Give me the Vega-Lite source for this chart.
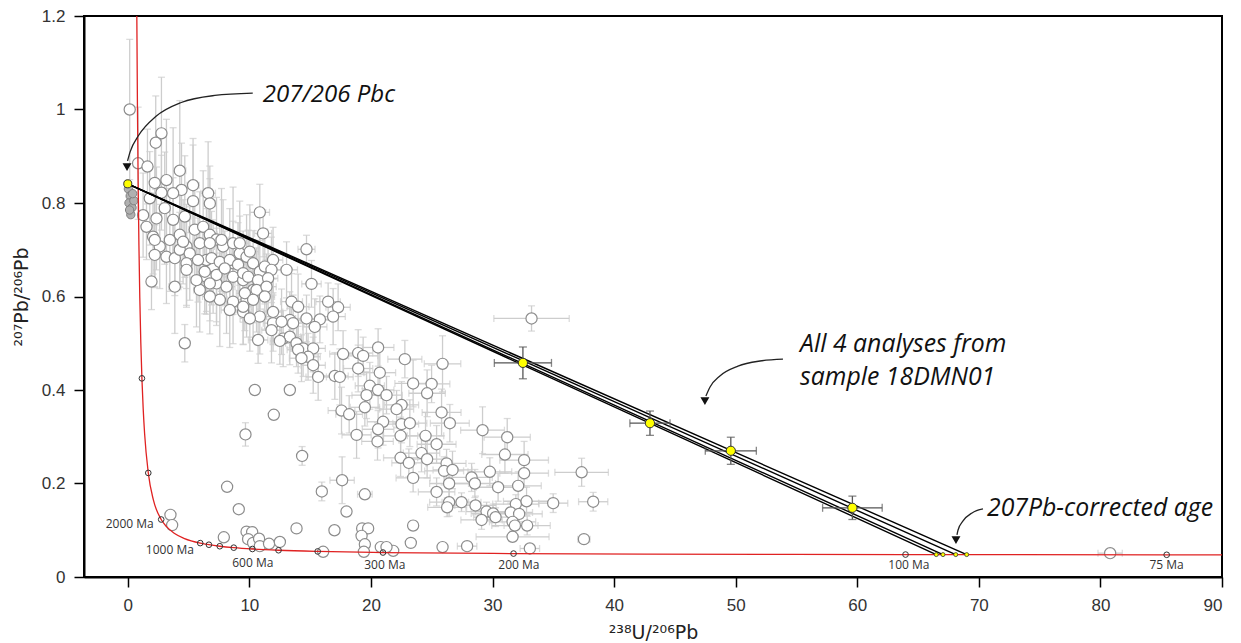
{
  "$schema": "https://vega.github.io/schema/vega-lite/v6.json",
  "width": 1138,
  "height": 561,
  "autosize": {"type": "none"},
  "padding": {"left": 84, "top": 16, "right": 19, "bottom": 66},
  "background": "white",
  "config": {
    "view": {"stroke": "black", "strokeWidth": 2},
    "axis": {
      "grid": false,
      "domainColor": "black",
      "domainWidth": 2,
      "tickColor": "black",
      "tickWidth": 1.5,
      "tickSize": 10,
      "labelFont": "Liberation Sans",
      "labelFontSize": 17,
      "labelColor": "#333333",
      "titleFont": "DejaVu Sans",
      "titleFontSize": 19,
      "titleFontWeight": "normal",
      "titleColor": "#222222"
    }
  },
  "datasets": {
    "grey": [
      {"x":0.16,"y":1.0,"xe":0.2,"ye":0.15},
      {"x":2.77,"y":0.949,"xe":0.4,"ye":0.12},
      {"x":2.3,"y":0.929,"xe":0.3,"ye":0.1},
      {"x":0.85,"y":0.885,"xe":0.2,"ye":0.12},
      {"x":1.62,"y":0.878,"xe":0.3,"ye":0.08},
      {"x":4.28,"y":0.869,"xe":0.5,"ye":0.15},
      {"x":3.18,"y":0.849,"xe":0.4,"ye":0.13},
      {"x":2.22,"y":0.843,"xe":0.3,"ye":0.09},
      {"x":5.37,"y":0.838,"xe":0.5,"ye":0.1},
      {"x":6.61,"y":0.821,"xe":0.6,"ye":0.11},
      {"x":6.75,"y":0.799,"xe":0.5,"ye":0.08},
      {"x":5.37,"y":0.804,"xe":0.4,"ye":0.12},
      {"x":4.42,"y":0.828,"xe":0.4,"ye":0.1},
      {"x":3.73,"y":0.821,"xe":0.4,"ye":0.14},
      {"x":2.77,"y":0.822,"xe":0.3,"ye":0.08},
      {"x":1.81,"y":0.81,"xe":0.3,"ye":0.1},
      {"x":10.86,"y":0.78,"xe":0.8,"ye":0.06},
      {"x":11.13,"y":0.735,"xe":0.7,"ye":0.05},
      {"x":14.7,"y":0.701,"xe":0.7,"ye":0.03},
      {"x":15.11,"y":0.627,"xe":0.8,"ye":0.05},
      {"x":1.26,"y":0.774,"xe":0.3,"ye":0.09},
      {"x":1.54,"y":0.749,"xe":0.3,"ye":0.07},
      {"x":2.36,"y":0.767,"xe":0.3,"ye":0.11},
      {"x":3.04,"y":0.789,"xe":0.4,"ye":0.12},
      {"x":3.73,"y":0.764,"xe":0.4,"ye":0.09},
      {"x":4.69,"y":0.771,"xe":0.5,"ye":0.13},
      {"x":5.51,"y":0.743,"xe":0.5,"ye":0.1},
      {"x":6.2,"y":0.749,"xe":0.5,"ye":0.12},
      {"x":2.08,"y":0.728,"xe":0.3,"ye":0.08},
      {"x":2.63,"y":0.707,"xe":0.4,"ye":0.09},
      {"x":3.18,"y":0.685,"xe":0.4,"ye":0.1},
      {"x":3.87,"y":0.682,"xe":0.5,"ye":0.08},
      {"x":2.22,"y":0.689,"xe":0.3,"ye":0.07},
      {"x":3.46,"y":0.721,"xe":0.4,"ye":0.11},
      {"x":4.28,"y":0.732,"xe":0.5,"ye":0.1},
      {"x":4.83,"y":0.707,"xe":0.5,"ye":0.09},
      {"x":4.28,"y":0.7,"xe":0.5,"ye":0.08},
      {"x":5.1,"y":0.692,"xe":0.5,"ye":0.1},
      {"x":5.92,"y":0.714,"xe":0.6,"ye":0.11},
      {"x":6.75,"y":0.732,"xe":0.6,"ye":0.12},
      {"x":7.3,"y":0.722,"xe":0.6,"ye":0.09},
      {"x":7.84,"y":0.707,"xe":0.7,"ye":0.1},
      {"x":8.66,"y":0.714,"xe":0.7,"ye":0.12},
      {"x":9.21,"y":0.692,"xe":0.7,"ye":0.08},
      {"x":9.77,"y":0.685,"xe":0.7,"ye":0.09},
      {"x":10.31,"y":0.671,"xe":0.8,"ye":0.07},
      {"x":10.86,"y":0.653,"xe":0.8,"ye":0.08},
      {"x":11.95,"y":0.678,"xe":0.8,"ye":0.07},
      {"x":8.66,"y":0.671,"xe":0.7,"ye":0.09},
      {"x":7.02,"y":0.664,"xe":0.6,"ye":0.1},
      {"x":6.47,"y":0.642,"xe":0.6,"ye":0.08},
      {"x":7.3,"y":0.628,"xe":0.6,"ye":0.09},
      {"x":8.12,"y":0.621,"xe":0.7,"ye":0.1},
      {"x":8.66,"y":0.642,"xe":0.7,"ye":0.08},
      {"x":9.49,"y":0.635,"xe":0.7,"ye":0.09},
      {"x":10.31,"y":0.614,"xe":0.8,"ye":0.07},
      {"x":9.77,"y":0.593,"xe":0.7,"ye":0.08},
      {"x":8.66,"y":0.589,"xe":0.7,"ye":0.09},
      {"x":7.57,"y":0.593,"xe":0.6,"ye":0.1},
      {"x":6.75,"y":0.6,"xe":0.6,"ye":0.08},
      {"x":5.92,"y":0.614,"xe":0.5,"ye":0.09},
      {"x":5.65,"y":0.635,"xe":0.5,"ye":0.1},
      {"x":6.47,"y":0.678,"xe":0.6,"ye":0.11},
      {"x":4.83,"y":0.671,"xe":0.5,"ye":0.09},
      {"x":3.87,"y":0.621,"xe":0.5,"ye":0.1},
      {"x":1.95,"y":0.632,"xe":0.3,"ye":0.06},
      {"x":8.39,"y":0.571,"xe":0.7,"ye":0.08},
      {"x":9.49,"y":0.567,"xe":0.7,"ye":0.07},
      {"x":10.86,"y":0.557,"xe":0.8,"ye":0.08},
      {"x":11.95,"y":0.567,"xe":0.8,"ye":0.07},
      {"x":13.47,"y":0.589,"xe":0.9,"ye":0.06},
      {"x":14.01,"y":0.578,"xe":0.9,"ye":0.07},
      {"x":16.48,"y":0.589,"xe":1.0,"ye":0.04},
      {"x":17.3,"y":0.577,"xe":1.0,"ye":0.05},
      {"x":13.33,"y":0.55,"xe":0.9,"ye":0.06},
      {"x":15.8,"y":0.551,"xe":1.0,"ye":0.05},
      {"x":16.89,"y":0.557,"xe":1.0,"ye":0.06},
      {"x":2.22,"y":0.721,"xe":0.3,"ye":0.1},
      {"x":4.55,"y":0.717,"xe":0.5,"ye":0.09},
      {"x":6.75,"y":0.714,"xe":0.6,"ye":0.1},
      {"x":7.71,"y":0.721,"xe":0.6,"ye":0.11},
      {"x":9.21,"y":0.714,"xe":0.7,"ye":0.09},
      {"x":10.04,"y":0.696,"xe":0.7,"ye":0.1},
      {"x":4.83,"y":0.657,"xe":0.5,"ye":0.08},
      {"x":5.78,"y":0.678,"xe":0.5,"ye":0.09},
      {"x":6.89,"y":0.682,"xe":0.6,"ye":0.1},
      {"x":7.57,"y":0.674,"xe":0.6,"ye":0.08},
      {"x":8.39,"y":0.678,"xe":0.7,"ye":0.11},
      {"x":9.07,"y":0.668,"xe":0.7,"ye":0.09},
      {"x":11.27,"y":0.664,"xe":0.8,"ye":0.08},
      {"x":11.82,"y":0.657,"xe":0.8,"ye":0.07},
      {"x":13.06,"y":0.657,"xe":0.9,"ye":0.06},
      {"x":6.33,"y":0.653,"xe":0.6,"ye":0.09},
      {"x":7.3,"y":0.646,"xe":0.6,"ye":0.1},
      {"x":7.98,"y":0.66,"xe":0.7,"ye":0.08},
      {"x":9.49,"y":0.65,"xe":0.7,"ye":0.09},
      {"x":6.75,"y":0.628,"xe":0.6,"ye":0.08},
      {"x":9.9,"y":0.642,"xe":0.7,"ye":0.1},
      {"x":10.72,"y":0.635,"xe":0.8,"ye":0.08},
      {"x":11.54,"y":0.639,"xe":0.8,"ye":0.07},
      {"x":9.63,"y":0.607,"xe":0.7,"ye":0.08},
      {"x":10.59,"y":0.614,"xe":0.8,"ye":0.09},
      {"x":11.41,"y":0.621,"xe":0.8,"ye":0.07},
      {"x":10.31,"y":0.593,"xe":0.8,"ye":0.08},
      {"x":11.27,"y":0.6,"xe":0.8,"ye":0.07},
      {"x":9.49,"y":0.578,"xe":0.7,"ye":0.08},
      {"x":10.04,"y":0.553,"xe":0.8,"ye":0.07},
      {"x":11.95,"y":0.543,"xe":0.8,"ye":0.06},
      {"x":12.65,"y":0.546,"xe":0.9,"ye":0.07},
      {"x":13.6,"y":0.543,"xe":0.9,"ye":0.06},
      {"x":14.7,"y":0.553,"xe":0.9,"ye":0.05},
      {"x":15.38,"y":0.535,"xe":1.0,"ye":0.06},
      {"x":11.82,"y":0.528,"xe":0.8,"ye":0.07},
      {"x":12.78,"y":0.51,"xe":0.9,"ye":0.06},
      {"x":10.72,"y":0.507,"xe":0.8,"ye":0.05},
      {"x":13.33,"y":0.514,"xe":0.9,"ye":0.06},
      {"x":13.88,"y":0.5,"xe":0.9,"ye":0.05},
      {"x":14.42,"y":0.489,"xe":1.0,"ye":0.06},
      {"x":15.25,"y":0.489,"xe":1.0,"ye":0.05},
      {"x":14.01,"y":0.486,"xe":0.9,"ye":0.05},
      {"x":14.83,"y":0.471,"xe":1.0,"ye":0.05},
      {"x":15.25,"y":0.453,"xe":1.0,"ye":0.06},
      {"x":15.66,"y":0.428,"xe":1.0,"ye":0.05},
      {"x":17.03,"y":0.43,"xe":1.1,"ye":0.05},
      {"x":17.44,"y":0.428,"xe":1.1,"ye":0.06},
      {"x":17.71,"y":0.477,"xe":1.1,"ye":0.05},
      {"x":4.69,"y":0.5,"xe":0.3,"ye":0.04},
      {"x":10.45,"y":0.4,"xe":0.3,"ye":0.005},
      {"x":13.33,"y":0.4,"xe":0.4,"ye":0.005},
      {"x":12.51,"y":0.505,"xe":0.8,"ye":0.05},
      {"x":14.29,"y":0.468,"xe":1.0,"ye":0.05},
      {"x":18.95,"y":0.479,"xe":1.2,"ye":0.05},
      {"x":19.36,"y":0.473,"xe":1.2,"ye":0.04},
      {"x":18.95,"y":0.446,"xe":1.2,"ye":0.05},
      {"x":20.59,"y":0.491,"xe":1.3,"ye":0.04},
      {"x":20.73,"y":0.437,"xe":1.3,"ye":0.05},
      {"x":22.79,"y":0.466,"xe":1.4,"ye":0.04},
      {"x":25.89,"y":0.456,"xe":1.5,"ye":0.06},
      {"x":19.91,"y":0.409,"xe":1.2,"ye":0.05},
      {"x":20.59,"y":0.4,"xe":1.3,"ye":0.04},
      {"x":19.64,"y":0.389,"xe":1.2,"ye":0.05},
      {"x":21.28,"y":0.389,"xe":1.3,"ye":0.04},
      {"x":23.47,"y":0.414,"xe":1.5,"ye":0.05},
      {"x":24.99,"y":0.413,"xe":1.5,"ye":0.04},
      {"x":24.62,"y":0.393,"xe":1.5,"ye":0.05},
      {"x":19.5,"y":0.363,"xe":1.2,"ye":0.04},
      {"x":17.58,"y":0.356,"xe":1.1,"ye":0.05},
      {"x":18.21,"y":0.348,"xe":1.1,"ye":0.04},
      {"x":22.52,"y":0.368,"xe":1.4,"ye":0.05},
      {"x":22.11,"y":0.359,"xe":1.4,"ye":0.04},
      {"x":25.81,"y":0.352,"xe":1.6,"ye":0.05},
      {"x":26.49,"y":0.329,"xe":1.6,"ye":0.04},
      {"x":21.0,"y":0.332,"xe":1.3,"ye":0.05},
      {"x":22.52,"y":0.327,"xe":1.4,"ye":0.04},
      {"x":23.2,"y":0.329,"xe":1.4,"ye":0.05},
      {"x":20.59,"y":0.316,"xe":1.3,"ye":0.04},
      {"x":18.82,"y":0.304,"xe":1.2,"ye":0.05},
      {"x":22.44,"y":0.302,"xe":1.4,"ye":0.04},
      {"x":24.49,"y":0.302,"xe":1.5,"ye":0.05},
      {"x":20.54,"y":0.29,"xe":1.3,"ye":0.04},
      {"x":25.4,"y":0.284,"xe":1.6,"ye":0.04},
      {"x":29.18,"y":0.314,"xe":1.8,"ye":0.05},
      {"x":31.21,"y":0.299,"xe":1.9,"ye":0.04},
      {"x":24.16,"y":0.265,"xe":1.5,"ye":0.04},
      {"x":31.02,"y":0.262,"xe":1.9,"ye":0.04},
      {"x":22.44,"y":0.255,"xe":1.4,"ye":0.04},
      {"x":23.12,"y":0.244,"xe":1.4,"ye":0.03},
      {"x":24.62,"y":0.252,"xe":1.5,"ye":0.04},
      {"x":26.22,"y":0.243,"xe":1.6,"ye":0.03},
      {"x":32.6,"y":0.25,"xe":2.0,"ye":0.04},
      {"x":26.02,"y":0.227,"xe":1.6,"ye":0.03},
      {"x":26.71,"y":0.229,"xe":1.6,"ye":0.04},
      {"x":29.78,"y":0.225,"xe":1.8,"ye":0.03},
      {"x":32.6,"y":0.222,"xe":2.0,"ye":0.03},
      {"x":23.47,"y":0.212,"xe":1.4,"ye":0.03},
      {"x":28.28,"y":0.213,"xe":1.7,"ye":0.03},
      {"x":28.55,"y":0.2,"xe":1.7,"ye":0.03},
      {"x":26.43,"y":0.2,"xe":1.6,"ye":0.03},
      {"x":30.46,"y":0.192,"xe":1.8,"ye":0.03},
      {"x":32.11,"y":0.195,"xe":1.9,"ye":0.03},
      {"x":25.4,"y":0.182,"xe":1.5,"ye":0.03},
      {"x":27.45,"y":0.16,"xe":1.6,"ye":0.02},
      {"x":28.6,"y":0.153,"xe":1.7,"ye":0.02},
      {"x":26.43,"y":0.16,"xe":1.6,"ye":0.03},
      {"x":26.27,"y":0.149,"xe":1.6,"ye":0.02},
      {"x":29.51,"y":0.14,"xe":1.7,"ye":0.02},
      {"x":30.05,"y":0.136,"xe":1.8,"ye":0.02},
      {"x":29.1,"y":0.122,"xe":1.7,"ye":0.02},
      {"x":30.25,"y":0.128,"xe":1.8,"ye":0.02},
      {"x":31.92,"y":0.156,"xe":1.9,"ye":0.02},
      {"x":32.8,"y":0.162,"xe":1.9,"ye":0.03},
      {"x":31.49,"y":0.138,"xe":1.8,"ye":0.02},
      {"x":32.19,"y":0.135,"xe":1.9,"ye":0.02},
      {"x":31.65,"y":0.118,"xe":1.9,"ye":0.02},
      {"x":31.84,"y":0.11,"xe":1.9,"ye":0.02},
      {"x":32.85,"y":0.11,"xe":1.9,"ye":0.02},
      {"x":31.65,"y":0.086,"xe":3.0,"ye":0.01},
      {"x":34.99,"y":0.158,"xe":1.2,"ye":0.02},
      {"x":17.0,"y":0.1,"xe":0.2,"ye":0.005},
      {"x":19.28,"y":0.104,"xe":0.3,"ye":0.01},
      {"x":19.77,"y":0.104,"xe":0.3,"ye":0.01},
      {"x":19.23,"y":0.088,"xe":0.3,"ye":0.005},
      {"x":19.5,"y":0.07,"xe":0.3,"ye":0.005},
      {"x":23.47,"y":0.11,"xe":0.3,"ye":0.01},
      {"x":23.28,"y":0.073,"xe":0.3,"ye":0.005},
      {"x":19.42,"y":0.054,"xe":0.3,"ye":0.005},
      {"x":20.81,"y":0.064,"xe":0.3,"ye":0.005},
      {"x":21.83,"y":0.056,"xe":0.3,"ye":0.005},
      {"x":21.28,"y":0.064,"xe":0.3,"ye":0.005},
      {"x":25.89,"y":0.064,"xe":0.3,"ye":0.005},
      {"x":27.91,"y":0.066,"xe":0.8,"ye":0.005},
      {"x":33.07,"y":0.061,"xe":0.8,"ye":0.005},
      {"x":33.21,"y":0.553,"xe":3.1,"ye":0.027},
      {"x":37.33,"y":0.224,"xe":2.2,"ye":0.03},
      {"x":38.28,"y":0.161,"xe":1.2,"ye":0.02},
      {"x":37.52,"y":0.081,"xe":0.5,"ye":0.005},
      {"x":12.01,"y":0.347,"xe":0.3,"ye":0.01},
      {"x":9.68,"y":0.305,"xe":0.3,"ye":0.025},
      {"x":14.34,"y":0.259,"xe":0.3,"ye":0.02},
      {"x":8.17,"y":0.193,"xe":0.3,"ye":0.005},
      {"x":15.96,"y":0.183,"xe":0.4,"ye":0.02},
      {"x":17.63,"y":0.207,"xe":1.0,"ye":0.05},
      {"x":19.5,"y":0.177,"xe":0.6,"ye":0.01},
      {"x":17.99,"y":0.14,"xe":0.3,"ye":0.005},
      {"x":9.13,"y":0.145,"xe":0.3,"ye":0.01},
      {"x":3.51,"y":0.133,"xe":0.2,"ye":0.005},
      {"x":3.65,"y":0.111,"xe":0.2,"ye":0.005},
      {"x":7.9,"y":0.085,"xe":0.2,"ye":0.005},
      {"x":9.77,"y":0.097,"xe":0.2,"ye":0.005},
      {"x":10.23,"y":0.096,"xe":0.2,"ye":0.005},
      {"x":9.9,"y":0.081,"xe":0.2,"ye":0.005},
      {"x":10.31,"y":0.073,"xe":0.2,"ye":0.005},
      {"x":10.8,"y":0.082,"xe":0.2,"ye":0.005},
      {"x":10.86,"y":0.066,"xe":0.2,"ye":0.005},
      {"x":11.62,"y":0.071,"xe":0.2,"ye":0.005},
      {"x":12.51,"y":0.075,"xe":0.2,"ye":0.005},
      {"x":13.88,"y":0.104,"xe":0.3,"ye":0.005},
      {"x":16.07,"y":0.054,"xe":0.2,"ye":0.005},
      {"x":80.8,"y":0.051,"xe":1.0,"ye":0.003}
    ],
    "cluster": [
      {"x":0.05,"y":0.83},{"x":0.2,"y":0.815},{"x":0.1,"y":0.8},{"x":0.35,"y":0.79},
      {"x":0.25,"y":0.775},{"x":0.5,"y":0.805},{"x":0.15,"y":0.785},{"x":0.4,"y":0.82}
    ],
    "concordia": [
      {"x":0.7425,"y":1.2075},{"x":0.795,"y":1.0089},{"x":0.853,"y":0.8455},{"x":0.918,"y":0.7093},
      {"x":0.99,"y":0.5967},{"x":1.0713,"y":0.5029},{"x":1.163,"y":0.4249},{"x":1.2675,"y":0.3602},
      {"x":1.387,"y":0.3058},{"x":1.687,"y":0.2226},{"x":2.111,"y":0.1643},{"x":2.749,"y":0.123},
      {"x":3.206,"y":0.1071},{"x":3.817,"y":0.0936},{"x":4.673,"y":0.0822},{"x":5.959,"y":0.0725},
      {"x":6.675,"y":0.06905},{"x":7.568,"y":0.0658},{"x":8.718,"y":0.06276},{"x":10.25,"y":0.0599},
      {"x":12.4,"y":0.05722},{"x":15.62,"y":0.0547},{"x":20.99,"y":0.05234},{"x":31.73,"y":0.05011},
      {"x":42.48,"y":0.04905},{"x":63.97,"y":0.04802},{"x":85.45,"y":0.04751},{"x":91.59,"y":0.04741}
    ],
    "ages": [
      {"x":1.163,"y":0.4249},{"x":1.687,"y":0.2226},{"x":2.749,"y":0.123},{"x":5.959,"y":0.0725},
      {"x":6.675,"y":0.06905},{"x":7.568,"y":0.0658},{"x":8.718,"y":0.06276},{"x":10.25,"y":0.0599},
      {"x":12.4,"y":0.05722},{"x":15.62,"y":0.0547},{"x":20.99,"y":0.05234},{"x":31.73,"y":0.05011},
      {"x":63.97,"y":0.04802},{"x":85.45,"y":0.04751}
    ],
    "ageLabels": [
      {"x":0.16,"y":0.113,"t":"2000 Ma"},
      {"x":3.46,"y":0.058,"t":"1000 Ma"},
      {"x":10.28,"y":0.03,"t":"600 Ma"},
      {"x":21.14,"y":0.026,"t":"300 Ma"},
      {"x":32.17,"y":0.026,"t":"200 Ma"},
      {"x":64.25,"y":0.026,"t":"100 Ma"},
      {"x":85.44,"y":0.026,"t":"75 Ma"}
    ],
    "pbLines": [
      {"id":"a","x":0,"y":0.841},{"id":"a","x":66.5,"y":0.0479},
      {"id":"b","x":0,"y":0.841},{"id":"b","x":67.05,"y":0.0479},
      {"id":"c","x":0,"y":0.841},{"id":"c","x":68.1,"y":0.0479},
      {"id":"d","x":0,"y":0.841},{"id":"d","x":69.0,"y":0.0479}
    ],
    "analyses": [
      {"x":32.5,"y":0.458,"xe":2.35,"ye":0.034},
      {"x":42.95,"y":0.329,"xe":1.65,"ye":0.026},
      {"x":49.6,"y":0.27,"xe":2.1,"ye":0.029},
      {"x":59.6,"y":0.148,"xe":2.45,"ye":0.025}
    ],
    "intercepts": [
      {"x":66.5,"y":0.0479},{"x":67.05,"y":0.0479},{"x":68.1,"y":0.0479},{"x":69.0,"y":0.0479}
    ],
    "pbc": [{"x":0,"y":0.841}],
    "arrows": [
      {"id":"a1","x":-0.02,"y":0.89},{"id":"a1","x":0.2,"y":0.91},{"id":"a1","x":0.9,"y":0.945},
      {"id":"a1","x":2.3,"y":0.985},{"id":"a1","x":4.4,"y":1.015},{"id":"a1","x":7.16,"y":1.03},
      {"id":"a1","x":10.28,"y":1.035},
      {"id":"a2","x":47.55,"y":0.387},{"id":"a2","x":47.88,"y":0.406},{"id":"a2","x":48.7,"y":0.43},
      {"id":"a2","x":50.19,"y":0.451},{"id":"a2","x":52.0,"y":0.462},{"id":"a2","x":53.89,"y":0.466},
      {"id":"a3","x":68.2,"y":0.09},{"id":"a3","x":68.29,"y":0.1005},{"id":"a3","x":68.7,"y":0.12},
      {"id":"a3","x":69.44,"y":0.137},{"id":"a3","x":70.34,"y":0.1455}
    ],
    "heads": [
      {"x":-0.06,"y":0.877},{"x":47.47,"y":0.376},{"x":68.12,"y":0.079}
    ],
    "notes": [
      {"x":11.1,"y":1.031,"t":"207/206 Pbc","s":"a"},
      {"x":55.3,"y":0.496,"t":"All 4 analyses from","s":"b"},
      {"x":55.3,"y":0.4257,"t":"sample 18DMN01","s":"b"},
      {"x":70.67,"y":0.1455,"t":"207Pb-corrected age","s":"b"}
    ]
  },
  "encoding": {
    "x": {
      "field": "x", "type": "quantitative",
      "scale": {"domain": [-3.6, 90], "nice": false, "zero": false},
      "axis": {"values": [0,10,20,30,40,50,60,70,80,90], "title": "²³⁸U/²⁰⁶Pb", "labelPadding": 10, "titlePadding": 10}
    },
    "y": {
      "field": "y", "type": "quantitative",
      "scale": {"domain": [0, 1.2], "nice": false, "zero": false},
      "axis": {"values": [0,0.2,0.4,0.6,0.8,1,1.2], "format": "~g", "title": "²⁰⁷Pb/²⁰⁶Pb", "labelPadding": 9, "titlePadding": 10}
    }
  },
  "layer": [
    {
      "data": {"name": "grey"},
      "mark": {"type": "errorbar", "ticks": {"size": 7}, "color": "#cdcdcd", "thickness": 1.3},
      "encoding": {"xError": {"field": "xe"}}
    },
    {
      "data": {"name": "grey"},
      "mark": {"type": "errorbar", "ticks": {"size": 7}, "color": "#cdcdcd", "thickness": 1.3},
      "encoding": {"yError": {"field": "ye"}}
    },
    {
      "data": {"name": "grey"},
      "mark": {"type": "circle", "size": 125, "filled": true, "fill": "white", "stroke": "#8c8c8c", "strokeWidth": 1.2, "opacity": 1}
    },
    {
      "data": {"name": "cluster"},
      "mark": {"type": "circle", "size": 70, "filled": true, "fill": "#b0b0b0", "stroke": "#808080", "strokeWidth": 1, "opacity": 1}
    },
    {
      "data": {"name": "concordia"},
      "mark": {"type": "line", "color": "#e02222", "strokeWidth": 1.3, "interpolate": "monotone", "clip": true}
    },
    {
      "data": {"name": "ages"},
      "mark": {"type": "point", "shape": "circle", "size": 32, "filled": false, "stroke": "#333333", "strokeWidth": 1, "opacity": 1}
    },
    {
      "data": {"name": "ageLabels"},
      "mark": {"type": "text", "font": "Open Sans", "fontSize": 12, "color": "#333333", "align": "center", "baseline": "middle"},
      "encoding": {"text": {"field": "t"}}
    },
    {
      "data": {"name": "pbLines"},
      "mark": {"type": "line", "color": "black", "strokeWidth": 1.4},
      "encoding": {"detail": {"field": "id"}}
    },
    {
      "data": {"name": "analyses"},
      "mark": {"type": "errorbar", "ticks": {"size": 8}, "color": "#555555", "thickness": 1.3},
      "encoding": {"xError": {"field": "xe"}}
    },
    {
      "data": {"name": "analyses"},
      "mark": {"type": "errorbar", "ticks": {"size": 8}, "color": "#555555", "thickness": 1.3},
      "encoding": {"yError": {"field": "ye"}}
    },
    {
      "data": {"name": "analyses"},
      "mark": {"type": "circle", "size": 85, "filled": true, "fill": "#ffff00", "stroke": "#333333", "strokeWidth": 1, "opacity": 1}
    },
    {
      "data": {"name": "intercepts"},
      "mark": {"type": "circle", "size": 16, "filled": true, "fill": "#ffff00", "stroke": "#333333", "strokeWidth": 0.8, "opacity": 1}
    },
    {
      "data": {"name": "pbc"},
      "mark": {"type": "circle", "size": 65, "filled": true, "fill": "#ffff00", "stroke": "#333333", "strokeWidth": 1, "opacity": 1}
    },
    {
      "data": {"name": "arrows"},
      "mark": {"type": "line", "color": "#222222", "strokeWidth": 1.3, "interpolate": "monotone"},
      "encoding": {"detail": {"field": "id"}}
    },
    {
      "data": {"name": "heads"},
      "mark": {"type": "point", "shape": "triangle-down", "size": 80, "filled": true, "color": "#111111", "opacity": 1}
    },
    {
      "data": {"name": "notes"},
      "transform": [{"filter": "datum.s == 'a'"}],
      "mark": {"type": "text", "font": "Open Sans", "fontStyle": "italic", "fontSize": 24, "color": "#111111", "align": "left", "baseline": "middle"},
      "encoding": {"text": {"field": "t"}}
    },
    {
      "data": {"name": "notes"},
      "transform": [{"filter": "datum.s == 'b'"}],
      "mark": {"type": "text", "font": "Open Sans", "fontStyle": "italic", "fontSize": 24.8, "color": "#111111", "align": "left", "baseline": "middle"},
      "encoding": {"text": {"field": "t"}}
    }
  ]
}
